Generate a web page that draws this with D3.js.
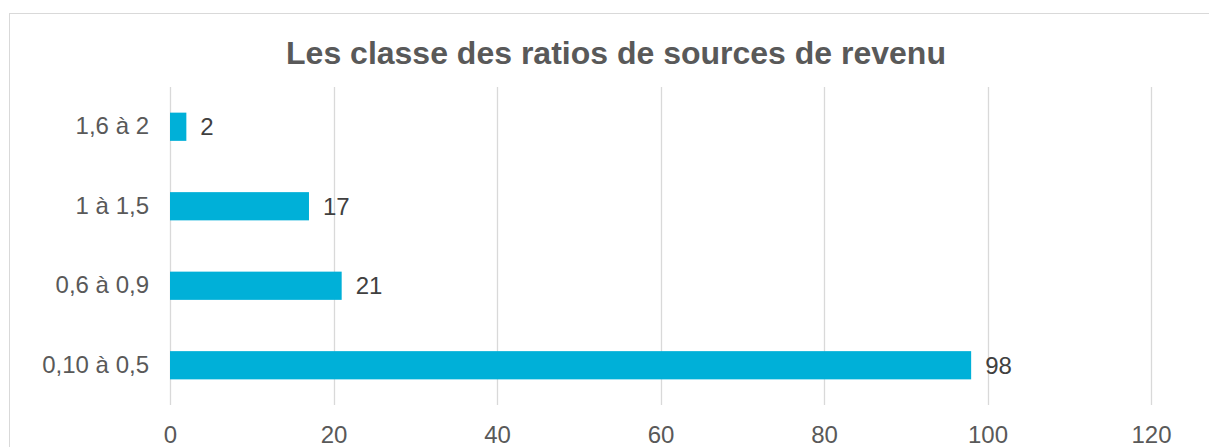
<!DOCTYPE html>
<html><head><meta charset="utf-8">
<script src="https://cdn.jsdelivr.net/npm/d3@7"></script>
<style>html,body{margin:0;padding:0;background:#fff;}svg{display:block;}</style>
</head><body>
<script>
const categories = ["1,6 à 2", "1 à 1,5", "0,6 à 0,9", "0,10 à 0,5"];
const values = [2, 17, 21, 98];
const xTicks = [0, 20, 40, 60, 80, 100, 120];
const title = "Les classe des ratios de sources de revenu";

const W = 1209, H = 447;
const svg = d3.select("body").append("svg").attr("width", W).attr("height", H);
const font = "'Liberation Sans', Arial, sans-serif";

svg.append("rect").attr("x", 9.5).attr("y", 13.5).attr("width", 1250).attr("height", 500)
  .attr("fill", "#fff").attr("stroke", "#D9D9D9").attr("stroke-width", 1);

const x = d3.scaleLinear().domain([0, 120]).range([170, 1151]);
const y = d3.scaleBand().domain(categories).range([87, 405]).paddingInner(0.645).paddingOuter(0.3225);

svg.append("text").attr("x", 616).attr("y", 64).attr("text-anchor", "middle")
  .attr("font-family", font).attr("font-weight", "bold").attr("font-size", 32).attr("fill", "#595959").text(title);

const grid = svg.append("g");
grid.selectAll("line").data(xTicks).join("line")
  .attr("x1", d => Math.round(x(d)) + 0.5).attr("x2", d => Math.round(x(d)) + 0.5)
  .attr("y1", 87).attr("y2", 405).attr("stroke", "#D9D9D9").attr("stroke-width", 1.3);

const xAxis = svg.append("g").attr("transform", "translate(0,405)")
  .call(d3.axisBottom(x).tickValues(xTicks).tickSize(0).tickPadding(21).tickFormat(d3.format("d")));
xAxis.select(".domain").remove();
xAxis.selectAll("text").attr("font-family", font).attr("font-size", 24).attr("fill", "#595959");

const yAxis = svg.append("g").attr("transform", "translate(170,0)")
  .call(d3.axisLeft(y).tickSize(0).tickPadding(21));
yAxis.select(".domain").remove();
yAxis.selectAll("text").attr("font-family", font).attr("font-size", 24).attr("fill", "#595959");

svg.append("g").selectAll("rect").data(values).join("rect")
  .attr("x", x(0)).attr("y", (d, i) => y(categories[i]))
  .attr("width", d => x(d) - x(0)).attr("height", y.bandwidth())
  .attr("fill", "#00B0D8");

svg.append("g").selectAll("text").data(values).join("text")
  .attr("x", d => x(d) + 14).attr("y", (d, i) => y(categories[i]) + y.bandwidth() / 2)
  .attr("dy", "0.35em").attr("font-family", font).attr("font-size", 24).attr("fill", "#404040")
  .text(d => d);
</script>
</body></html>
